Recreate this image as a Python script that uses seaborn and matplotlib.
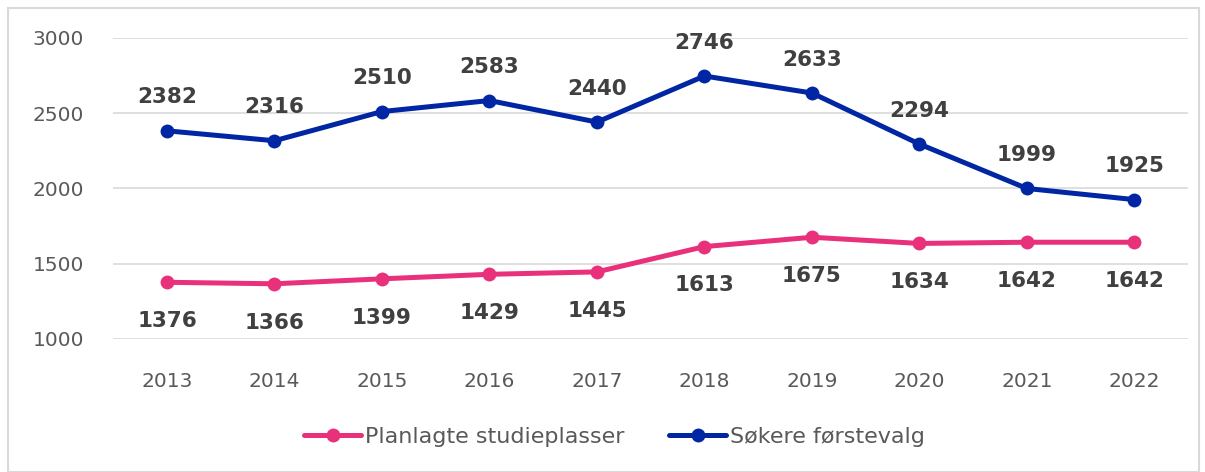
import pandas as pd
import matplotlib.pyplot as plt
import seaborn as sns
from matplotlib.patches import Rectangle

# Data
years = ["2013", "2014", "2015", "2016", "2017", "2018", "2019", "2020", "2021", "2022"]
studieplasser = [1376, 1366, 1399, 1429, 1445, 1613, 1675, 1634, 1642, 1642]
forstevalg = [2382, 2316, 2510, 2583, 2440, 2746, 2633, 2294, 1999, 1925]

series_names = ["Planlagte studieplasser", "Søkere førstevalg"]
colors = ["#E8317A", "#0026A3"]

df = pd.DataFrame({
    "år": years * 2,
    "verdi": studieplasser + forstevalg,
    "serie": [series_names[0]] * len(years) + [series_names[1]] * len(years),
})

sns.set_style("white")
plt.rcParams["font.family"] = ["DejaVu Sans"]

fig = plt.figure(figsize=(12.05, 4.72), dpi=100)
ax = fig.add_axes([0.094, 0.282, 0.892, 0.638])

sns.lineplot(data=df, x="år", y="verdi", hue="serie", palette=colors,
             marker="o", markersize=10, linewidth=3.6, markeredgewidth=0,
             sort=False, ax=ax)

ax.set_xlim(-0.5, len(years) - 0.5)
ax.set_ylim(1000, 3000)
ax.set_yticks([1000, 1500, 2000, 2500, 3000])
ax.grid(axis="y", color="#D9D9D9", linewidth=1.2)
ax.set_axisbelow(True)
for s in ax.spines.values():
    s.set_visible(False)
ax.tick_params(axis="both", length=0, labelsize=14.5, labelcolor="#595959")
ax.tick_params(axis="x", pad=24)
ax.tick_params(axis="y", pad=21)
ax.set_xlabel("")
ax.set_ylabel("")

# Data labels
for i, v in enumerate(forstevalg):
    ax.annotate(str(v), (i, v), xytext=(0, 24), textcoords="offset points",
                ha="center", va="center", fontsize=15.5, fontweight="bold",
                color="#404040")
for i, v in enumerate(studieplasser):
    ax.annotate(str(v), (i, v), xytext=(0, -28), textcoords="offset points",
                ha="center", va="center", fontsize=15.5, fontweight="bold",
                color="#404040")

leg = ax.legend(loc="center", bbox_to_anchor=(0.466, -0.326), ncol=2, frameon=False,
                fontsize=16, handlelength=2.6, columnspacing=2.0, handletextpad=0.15)
for t in leg.get_texts():
    t.set_color("#595959")

# Light frame around the chart
fig.patches.append(Rectangle((0.007, 0.0), 0.988, 0.983, transform=fig.transFigure,
                             fill=False, edgecolor="#D9D9D9", linewidth=1.5))

fig.savefig("out.png", dpi=100)
